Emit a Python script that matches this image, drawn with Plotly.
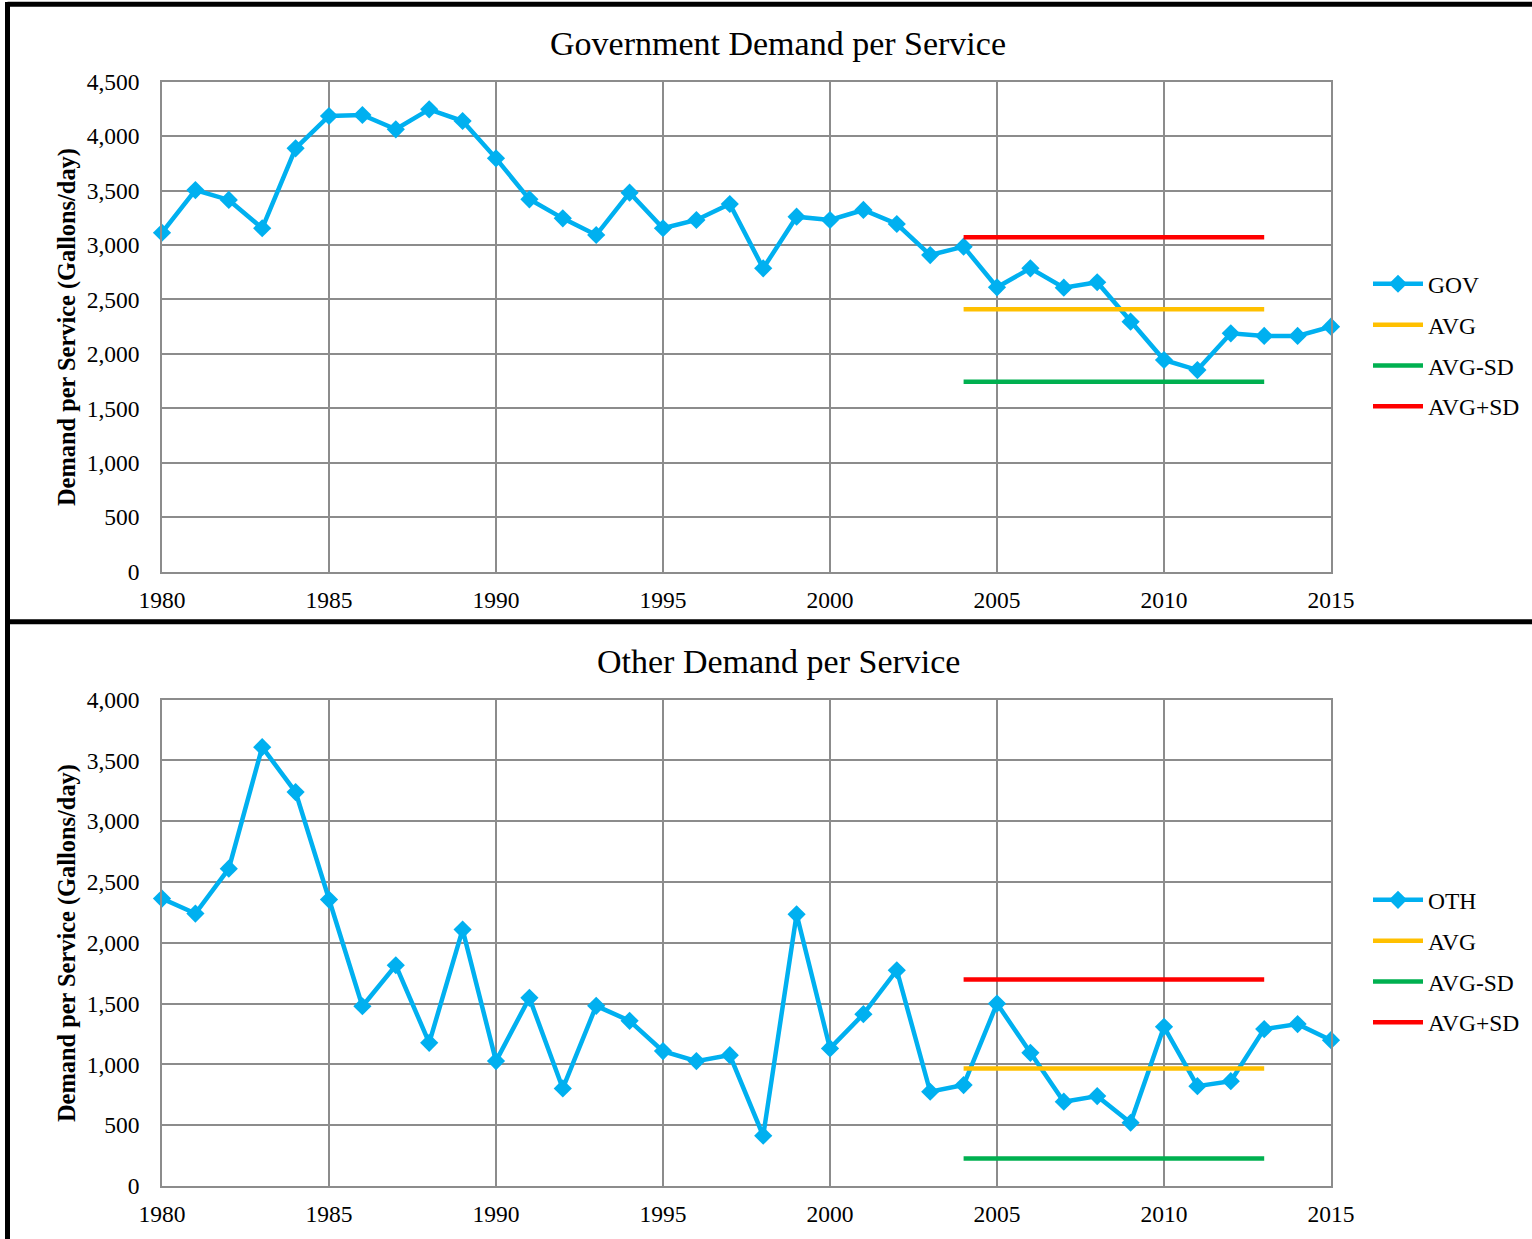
import plotly.graph_objects as go

years = list(range(1980, 2016))

gov = [3113, 3505, 3414, 3154, 3888, 4185, 4194, 4063, 4246, 4139,
       3796, 3420, 3245, 3092, 3481, 3154, 3230, 3377, 2786, 3260,
       3230, 3322, 3193, 2908, 2985, 2612, 2786, 2608, 2658, 2296,
       1944, 1852, 2189, 2165, 2165, 2250]

oth = [2363, 2240, 2609, 3608, 3239, 2355, 1478, 1815, 1177, 2108,
       1027, 1547, 802, 1481, 1358, 1109, 1027, 1076, 413, 2234,
       1131, 1413, 1774, 775, 830, 1500, 1095, 693, 739, 520,
       1309, 821, 862, 1290, 1331, 1199]

stat_years = [2004, 2013]
gov_avg, gov_avg_minus_sd, gov_avg_plus_sd = 2410, 1745, 3071
oth_avg, oth_avg_minus_sd, oth_avg_plus_sd = 967, 227, 1698

x_ticks = [1980, 1985, 1990, 1995, 2000, 2005, 2010, 2015]
top_title = "Government Demand per Service"
bottom_title = "Other Demand per Service"
y_title = "Demand per Service (Gallons/day)"

BLUE = "#00B0F0"
YELLOW = "#FFC000"
GREEN = "#00B050"
RED = "#FF0000"
FONT = "Liberation Serif"
W, H = 1532, 1239

fig = go.Figure()

def add_panel(vals, name, avg, avg_m, avg_p, xa, ya, leg):
    fig.add_trace(go.Scatter(x=years, y=vals, name=name, mode="lines+markers",
                             line=dict(color=BLUE, width=4.5),
                             marker=dict(symbol="diamond", size=14, color=BLUE),
                             xaxis=xa, yaxis=ya, legend=leg, legendgroup=leg + name,
                             cliponaxis=False))
    for nm, v, c in [("AVG", avg, YELLOW), ("AVG-SD", avg_m, GREEN), ("AVG+SD", avg_p, RED)]:
        fig.add_trace(go.Scatter(x=stat_years, y=[v, v], name=nm, mode="lines",
                                 line=dict(color=c, width=4.5),
                                 xaxis=xa, yaxis=ya, legend=leg, legendgroup=leg + nm,
                                 cliponaxis=False))

add_panel(gov, "GOV", gov_avg, gov_avg_minus_sd, gov_avg_plus_sd, "x", "y", "legend")
add_panel(oth, "OTH", oth_avg, oth_avg_minus_sd, oth_avg_plus_sd, "x2", "y2", "legend2")

xd = [162 / W, 1331 / W]
top_d = [1 - 571.7 / H, 1 - 81.7 / H]
bot_d = [1 - 1186 / H, 1 - 699.5 / H]

tickfont = dict(family=FONT, size=23.5, color="black")
grid = "#8c8c8c"

xcommon = dict(range=[1980, 2015], tickvals=x_ticks, showgrid=True, gridcolor=grid,
               gridwidth=1.5, showline=True, linecolor=grid, linewidth=1.5, mirror=True,
               zeroline=False, tickfont=tickfont, ticks="", ticklabelstandoff=6,
               domain=xd)
ycommon = dict(showgrid=True, gridcolor=grid, gridwidth=1.5, showline=True,
               linecolor=grid, linewidth=1.5, mirror=True, zeroline=False,
               tickfont=tickfont, tickformat=",", ticks="", ticklabelstandoff=16, dtick=500)

legcommon = dict(xref="container", yref="container", xanchor="left", yanchor="top",
                 font=dict(family=FONT, size=23.5, color="black"),
                 traceorder="grouped", tracegroupgap=7.3, itemwidth=50,
                 borderwidth=0, bgcolor="rgba(0,0,0,0)")

fig.update_layout(
    width=W, height=H, margin=dict(l=0, r=0, t=0, b=0, autoexpand=False),
    paper_bgcolor="white", plot_bgcolor="white",
    font=dict(family=FONT, color="black"),
    xaxis=dict(**xcommon, anchor="y"),
    yaxis=dict(**ycommon, range=[0, 4500], domain=top_d, anchor="x"),
    xaxis2=dict(**xcommon, anchor="y2"),
    yaxis2=dict(**ycommon, range=[0, 4000], domain=bot_d, anchor="x2"),
    legend=dict(**legcommon, x=1368 / W, y=1 - 262 / H),
    legend2=dict(**legcommon, x=1368 / W, y=1 - 878 / H),
    showlegend=True,
)

annos = [
    dict(text=top_title, x=778 / W, y=1 - 43 / H, size=34, angle=0),
    dict(text=bottom_title, x=778 / W, y=1 - 661 / H, size=34, angle=0),
    dict(text="<b>" + y_title + "</b>", x=67 / W, y=1 - 327 / H, size=24.4, angle=-90),
    dict(text="<b>" + y_title + "</b>", x=67 / W, y=1 - 943 / H, size=24.4, angle=-90),
]
for a in annos:
    fig.add_annotation(text=a["text"], x=a["x"], y=a["y"], xref="paper", yref="paper",
                       xanchor="center", yanchor="middle", showarrow=False,
                       textangle=a["angle"], font=dict(family=FONT, size=a["size"], color="black"))

# panel frames (black borders)
bw = 5
for (x0, y0, x1, y1) in [(7.5 / W, 1 - 4.2 / H, 1, 1 - 4.2 / H),
                         (7.5 / W, 1 - 621.7 / H, 1, 1 - 621.7 / H),
                         (7.5 / W, 0, 7.5 / W, 1 - 2 / H)]:
    fig.add_shape(type="line", xref="paper", yref="paper", x0=x0, y0=y0, x1=x1, y1=y1,
                  line=dict(color="black", width=bw), layer="above")

fig.write_html("out.html",
               config={"displayModeBar": False},
               post_script="document.body.style.margin='0';document.body.style.overflow='hidden';")
